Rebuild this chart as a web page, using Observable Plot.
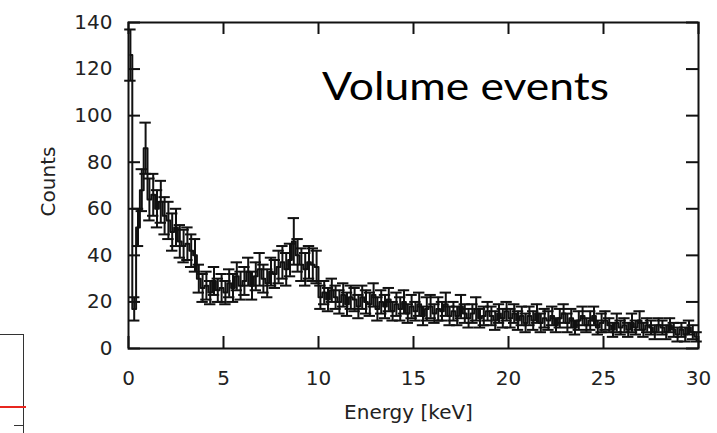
<!DOCTYPE html>
<html>
<head>
<meta charset="utf-8">
<script src="https://cdn.jsdelivr.net/npm/d3@7"></script>
<script src="https://cdn.jsdelivr.net/npm/@observablehq/plot@0.6"></script>
<style>
  html, body { margin: 0; padding: 0; background: #fff; }
  #wrap { position: relative; width: 717px; height: 433px; overflow: hidden; }
  .frag { position: absolute; }
</style>
</head>
<body>
<div id="wrap">
  <div id="chart"></div>
  <!-- fragment of a neighbouring chart visible at the lower-left edge of the slide -->
  <div class="frag" style="left:0;top:334px;width:24px;height:0;border-top:1.5px solid #333;"></div>
  <div class="frag" style="left:23px;top:334px;width:0;height:110px;border-left:1.5px solid #333;"></div>
  <div class="frag" style="left:0;top:406px;width:26px;height:0;border-top:2px solid #e8261f;"></div>
  <div class="frag" style="left:14px;top:425px;width:10px;height:0;border-top:1.5px solid #333;"></div>
</div>
<script>
// Bin centres of the energy histogram (keV)
const energyKeV = [
  0.1,0.3,0.5,0.7,0.9,1.1,1.3,1.5,1.7,1.9,
  2.1,2.3,2.5,2.7,2.9,3.1,3.3,3.5,3.7,3.9,
  4.1,4.3,4.5,4.7,4.9,5.1,5.3,5.5,5.7,5.9,
  6.1,6.3,6.5,6.7,6.9,7.1,7.3,7.5,7.7,7.9,
  8.1,8.3,8.5,8.7,8.9,9.1,9.3,9.5,9.7,9.9,
  10.1,10.3,10.5,10.7,10.9,11.1,11.3,11.5,11.7,11.9,
  12.1,12.3,12.5,12.7,12.9,13.1,13.3,13.5,13.7,13.9,
  14.1,14.3,14.5,14.7,14.9,15.1,15.3,15.5,15.7,15.9,
  16.1,16.3,16.5,16.7,16.9,17.1,17.3,17.5,17.7,17.9,
  18.1,18.3,18.5,18.7,18.9,19.1,19.3,19.5,19.7,19.9,
  20.1,20.3,20.5,20.7,20.9,21.1,21.3,21.5,21.7,21.9,
  22.1,22.3,22.5,22.7,22.9,23.1,23.3,23.5,23.7,23.9,
  24.1,24.3,24.5,24.7,24.9,25.1,25.3,25.5,25.7,25.9,
  26.1,26.3,26.5,26.7,26.9,27.1,27.3,27.5,27.7,27.9,
  28.1,28.3,28.5,28.7,28.9,29.1,29.3,29.5,29.7,29.9
];
// Counts per bin
const counts = [
  126,17,52,68,86, 64,66,60,63,57,
  55,50,52,46,44, 45,42,40,30,26,
  27,24,29,25,26, 24,28,26,31,27,
  29,33,27,31,34, 30,28,33,32,35,
  37,34,38,46,40, 36,34,37,36,35,
  22,24,21,25,22, 20,23,19,22,21,
  18,22,20,19,23, 17,20,18,21,16,
  19,17,20,15,18, 16,19,14,17,18,
  15,17,16,19,14, 16,14,18,15,13,
  15,17,13,14,16, 14,12,15,13,16,
  13,15,12,14,11, 14,12,15,11,13,
  12,14,10,13,15, 11,13,9,12,14,
  10,12,14,9,11, 12,10,8,11,9,
  10,8,11,9,12, 8,10,9,7,10,
  9,7,10,8,6, 8,6,9,7,5
];
// Half-length of each error bar (counts)
const errors = [
  11,5,8,9,11, 9,9,8,9,8,
  8,8,8,7,7, 7,7,7,6,6,
  6,5,6,5,6, 5,6,6,6,6,
  6,6,6,6,7, 6,6,6,6,7,
  7,7,7,10,7, 7,7,7,7,7,
  5,5,5,5,5, 5,5,5,5,5,
  5,5,5,5,5, 5,5,5,5,4,
  5,5,5,4,5, 4,5,4,5,5,
  4,5,4,5,4, 4,4,5,4,4,
  4,5,4,4,4, 4,4,4,4,4,
  4,4,4,4,4, 4,4,4,4,4,
  4,4,3,4,4, 4,4,3,4,4,
  3,4,4,3,4, 4,3,3,4,3,
  3,3,4,3,4, 3,3,3,3,3,
  3,3,3,3,3, 3,3,3,3,2
];
const xTicks = [0, 5, 10, 15, 20, 25, 30];
const yTicks = [0, 20, 40, 60, 80, 100, 120, 140];
const xLabel = "Energy [keV]";
const yLabel = "Counts";
const annotation = "Volume events";

const data = energyKeV.map((e, i) => ({ e, c: counts[i], err: errors[i] }));
const capHalf = 0.3;

const W = 717, H = 433;
const mt = 22, mr = 19, mb = 85, ml = 128;
const plotH = H - mt - mb;
const plotW = W - ml - mr;
const tickLen = 12;
const ink = "#111";
const sw = 2;
const tickFont = "DejaVu Sans, Verdana, sans-serif";
const fs = 20;

const chart = Plot.plot({
  width: W,
  height: H,
  marginTop: mt,
  marginRight: mr,
  marginBottom: mb,
  marginLeft: ml,
  style: { fontFamily: tickFont, fontSize: fs + "px", color: ink, background: "#fff" },
  x: { domain: [0, 30], ticks: xTicks },
  y: { domain: [0, 140], ticks: yTicks },
  marks: [
    // tick labels only (ticks are drawn inward below)
    Plot.axisX(xTicks, { tickSize: 0, tickPadding: 22, fontSize: fs, fill: "#222", label: null }),
    Plot.axisY(yTicks, { tickSize: 0, tickPadding: 16, fontSize: fs, fill: "#222", label: null }),
    // inward ticks on all four sides
    Plot.ruleX(xTicks, { x: d => d, insetTop: plotH - tickLen, stroke: ink, strokeWidth: sw }),
    Plot.ruleX(xTicks, { x: d => d, insetBottom: plotH - tickLen, stroke: ink, strokeWidth: sw }),
    Plot.ruleY(yTicks, { y: d => d, insetRight: plotW - tickLen, stroke: ink, strokeWidth: sw }),
    Plot.ruleY(yTicks, { y: d => d, insetLeft: plotW - tickLen, stroke: ink, strokeWidth: sw }),
    // error bars
    Plot.ruleX(data, { x: "e", y1: d => d.c - d.err, y2: d => d.c + d.err, stroke: ink, strokeWidth: sw }),
    Plot.ruleY(data, { y: d => d.c + d.err, x1: d => d.e - capHalf, x2: d => d.e + capHalf, stroke: ink, strokeWidth: sw }),
    Plot.ruleY(data, { y: d => d.c - d.err, x1: d => d.e - capHalf, x2: d => d.e + capHalf, stroke: ink, strokeWidth: sw }),
    // histogram steps
    Plot.line(data, { x: "e", y: "c", curve: "step", stroke: ink, strokeWidth: sw }),
    Plot.frame({ stroke: ink, strokeWidth: 2 }),
    // axis titles
    Plot.text([xLabel], { frameAnchor: "bottom", lineAnchor: "bottom", dx: -5, dy: 70, fontSize: fs, fill: "#222", fontFamily: tickFont }),
    Plot.text([yLabel], { frameAnchor: "left", rotate: -90, textAnchor: "middle", dx: -80, dy: -4, fontSize: fs, fill: "#222", fontFamily: tickFont }),
    // in-plot annotation
    Plot.text([annotation], { frameAnchor: "top", lineAnchor: "middle", dx: 52, dy: 65, fontSize: 38, fill: "#000", fontFamily: "Lato, 'Open Sans', sans-serif" })
  ]
});
// stretch the annotation to the width it has on the slide (Calibri is not installed)
const notes = Array.from(chart.querySelectorAll("text")).filter(t => t.textContent === annotation);
notes.forEach(t => { t.setAttribute("textLength", "287"); t.setAttribute("lengthAdjust", "spacingAndGlyphs"); });
document.getElementById("chart").appendChild(chart);
</script>
</body>
</html>
